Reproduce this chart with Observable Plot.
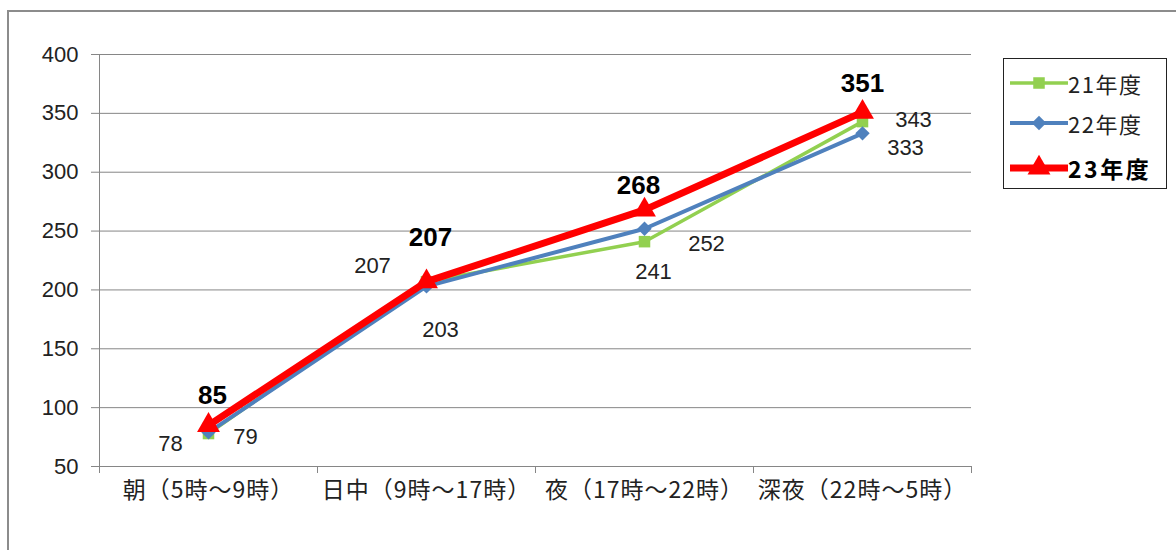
<!DOCTYPE html>
<html>
<head>
<meta charset="utf-8">
<script src="https://cdn.jsdelivr.net/npm/d3@7"></script>
<script src="https://cdn.jsdelivr.net/npm/@observablehq/plot@0.6"></script>
<style>
  html, body { margin: 0; padding: 0; background: #fff; }
  #wrap { position: relative; width: 1176px; height: 550px; overflow: hidden; background: #fff;
          font-family: "Noto Sans CJK JP", "Noto Sans", sans-serif; }
  #frame { position: absolute; left: 7px; top: 10px; width: 1200px; height: 600px;
           border: 2px solid #8c8c8c; box-sizing: border-box; }
  #chart { position: absolute; left: 0; top: 0; }
  #legend { position: absolute; left: 1003px; top: 58px; width: 164px; height: 131px;
            border: 1px solid #222; box-sizing: border-box; background: #fff; }
  .item { position: absolute; left: 6px; height: 30px; display: flex; align-items: center; }
  .item span { font-size: 22px; color: #222; letter-spacing: 1.5px; }
  .item.bold span { font-size: 23px; font-weight: bold; color: #000; letter-spacing: 2.5px; }
</style>
</head>
<body>
<div id="wrap">
  <div id="frame"></div>
  <div id="chart"></div>
  <div id="legend"></div>
</div>
<script>
// ---- data ----
const categories = ["朝（5時～9時）", "日中（9時～17時）", "夜（17時～22時）", "深夜（22時～5時）"];
const seriesNames = ["21年度", "22年度", "23年度"];
const values21 = [78, 207, 241, 343];
const values22 = [79, 203, 252, 333];
const values23 = [85, 207, 268, 351];
const yTicks = [50, 100, 150, 200, 250, 300, 350, 400];

// ---- styles / layout ----
const colors = {"21年度": "#92d050", "22年度": "#4f81bd", "23年度": "#ff0000"};
const symbols = {"21年度": "square", "22年度": "diamond2", "23年度": "triangle"};
const radii = {"21年度": 6.5, "22年度": 6.5, "23年度": 8.5};
const widths = {"21年度": 3.5, "22年度": 4, "23年度": 7};
// label offsets (px) for each point, per series
const labelOffsets = {
  "21年度": [[-38, 10], [-54, -16], [9, 30], [51, -2]],
  "22年度": [[37, 5], [14, 44], [62, 15], [43, 15]],
  "23年度": [[4, -30], [4, -44], [-6, -24], [0, -29]]
};
const numFont = "'Liberation Sans', Arial, sans-serif";

const W = 1176, H = 550;
const mL = 99, mR = 205, mT = 54, mB = 84;
const halfStep = (W - mL - mR) / categories.length / 2;

const allValues = {"21年度": values21, "22年度": values22, "23年度": values23};
const rows = seriesNames.flatMap(s => categories.map((c, i) => ({series: s, cat: c, value: allValues[s][i], idx: i})));

const marks = [
  Plot.ruleY(yTicks, {stroke: "#868686", strokeWidth: 1}),
  Plot.ruleX([categories[0]], {dx: -halfStep, stroke: "#868686", strokeWidth: 1}),
  Plot.ruleX(categories, {dx: -halfStep, y1: 50, y2: 50, insetBottom: -7, stroke: "#868686"}),
  Plot.ruleX([categories[categories.length - 1]], {dx: halfStep, y1: 50, y2: 50, insetBottom: -7, stroke: "#868686"})
];

for (const s of seriesNames) {
  const d = rows.filter(r => r.series === s);
  marks.push(Plot.line(d, {x: "cat", y: "value", stroke: colors[s], strokeWidth: widths[s], strokeLinejoin: "round"}));
  marks.push(Plot.dot(d, {x: "cat", y: "value", symbol: symbols[s], r: radii[s], fill: colors[s], stroke: "none"}));
}
for (const s of seriesNames) {
  const d = rows.filter(r => r.series === s);
  const bold = s === "23年度";
  d.forEach((r, i) => {
    const [dx, dy] = labelOffsets[s][i];
    marks.push(Plot.text([r], {x: "cat", y: "value", text: q => String(q.value), dx, dy,
      fontFamily: numFont, fontSize: bold ? 26 : 22, fontWeight: bold ? "bold" : "normal", fill: bold ? "#000" : "#222"}));
  });
}

const chart = Plot.plot({
  width: W, height: H,
  marginLeft: mL, marginRight: mR, marginTop: mT, marginBottom: mB,
  style: {background: "transparent", fontFamily: "'Noto Sans CJK JP', sans-serif", fontSize: "20px", color: "#222", overflow: "visible"},
  x: {type: "point", domain: categories, padding: 0.5, label: null, tickSize: 0, tickPadding: 15},
  y: {domain: [50, 400], ticks: yTicks, label: null, tickSize: 8, tickPadding: 13},
  marks
});
chart.querySelectorAll('[aria-label="y-axis"] text, [aria-label="y-axis tick label"] text').forEach(t => { t.style.fontSize = "22px"; t.style.fontFamily = numFont; });
chart.querySelectorAll('[aria-label="x-axis"] text, [aria-label="x-axis tick label"] text').forEach(t => { t.style.fontSize = "23px"; t.style.letterSpacing = "1px"; });
chart.querySelectorAll('[aria-label="y-axis"] path, [aria-label="y-axis tick"] path, [aria-label="y-axis"] line').forEach(p => p.setAttribute("stroke", "#868686"));
document.getElementById("chart").appendChild(chart);

// legend
const legend = document.getElementById("legend");
const itemTops = [9, 49, 94];
seriesNames.forEach((s, i) => {
  const div = document.createElement("div");
  div.className = "item" + (s === "23年度" ? " bold" : "");
  div.style.top = itemTops[i] + "px";
  const svg = d3.create("svg").attr("width", 58).attr("height", 30);
  svg.append("line").attr("x1", 0).attr("x2", 58).attr("y1", 15).attr("y2", 15)
    .attr("stroke", colors[s]).attr("stroke-width", widths[s]);
  svg.append("path").attr("transform", "translate(29,15)")
    .attr("d", d3.symbol(s === "21年度" ? d3.symbolSquare : s === "22年度" ? d3.symbolDiamond2 : d3.symbolTriangle, Math.PI * radii[s] * radii[s])())
    .attr("fill", colors[s]);
  div.appendChild(svg.node());
  const span = document.createElement("span");
  span.textContent = s;
  div.appendChild(span);
  legend.appendChild(div);
});
</script>
</body>
</html>
